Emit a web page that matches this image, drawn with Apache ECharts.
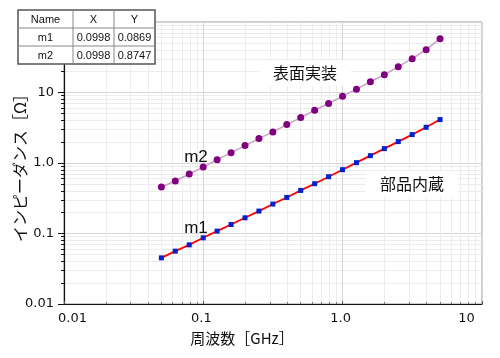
<!DOCTYPE html>
<html>
<head>
<meta charset="utf-8">
<script src="https://cdn.jsdelivr.net/npm/echarts@6/dist/echarts.min.js"></script>
<style>html,body{margin:0;padding:0;background:#fff}#c{width:500px;height:358px}</style>
</head>
<body>
<div id="c"></div>
<script>
// Frequency points [GHz]
const freqGHz = [0.05, 0.0629, 0.0792, 0.0998, 0.1256, 0.1581, 0.1991, 0.2506, 0.3155, 0.3972, 0.5, 0.6295, 0.7924, 0.9976, 1.256, 1.581, 1.991, 2.506, 3.155, 3.972, 5.0];
// m1: 部品内蔵 (embedded component) impedance [Ω]
const zEmbedded = [0.0451, 0.0562, 0.0690, 0.0869, 0.1081, 0.1341, 0.1670, 0.2080, 0.2616, 0.3247, 0.4083, 0.5084, 0.6393, 0.804, 1.011, 1.272, 1.599, 2.011, 2.529, 3.213, 4.133];
// m2: 表面実装 (surface mount) impedance [Ω]
const zSurface = [0.456, 0.555, 0.699, 0.8747, 1.116, 1.403, 1.765, 2.219, 2.762, 3.509, 4.413, 5.604, 6.98, 8.83, 11.15, 14.20, 17.86, 23.21, 30.16, 40.49, 58.0];
// Axis tick labels
const xTickLabels = ['0.01', '0.1', '1.0', '10'];
const yTickLabels = ['0.01', '0.1', '1.0', '10', ''];
// Marker table
const tableHeader = ['Name', 'X', 'Y'];
const markerRows = [['m1', '0.0998', '0.0869'], ['m2', '0.0998', '0.8747']];

const chart = echarts.init(document.getElementById('c'), null, {renderer: 'canvas'});
const FONT = 'DejaVu Sans';
const CJK = 'Noto Sans CJK JP';

function decadeIndex(v, minExp) { return Math.round(Math.log10(v)) - minExp; }

// table graphics
const colX = [18, 73, 114, 155];
const rowY = [10, 28, 46, 64];
const tableEls = [];
tableEls.push({type: 'rect', shape: {x: colX[0], y: rowY[0], width: colX[3] - colX[0], height: rowY[3] - rowY[0]}, style: {fill: '#fff', stroke: '#555', lineWidth: 1.5}, z: 100});
for (let i = 1; i < 3; i++) {
  tableEls.push({type: 'line', shape: {x1: colX[i], y1: rowY[0], x2: colX[i], y2: rowY[3]}, style: {stroke: '#888', lineWidth: 1}, z: 101});
  tableEls.push({type: 'line', shape: {x1: colX[0], y1: rowY[i], x2: colX[3], y2: rowY[i]}, style: {stroke: '#888', lineWidth: 1}, z: 101});
}
const allRows = [tableHeader].concat(markerRows);
allRows.forEach((row, r) => {
  row.forEach((txt, c) => {
    tableEls.push({type: 'text', x: (colX[c] + colX[c + 1]) / 2, y: (rowY[r] + rowY[r + 1]) / 2 + 0.5,
      style: {text: txt, fill: '#111', font: '11px "Liberation Sans"', align: 'center', verticalAlign: 'middle'}, z: 102});
  });
});

function annot(x, y, text, bg) {
  return {type: 'text', x: x, y: y, z: 50,
    style: {text: text, fill: '#111', font: '16px "' + CJK + '"', align: 'center', verticalAlign: 'middle',
      backgroundColor: bg ? '#fff' : null, padding: bg ? [5, 14, 5, 14] : 0}};
}

const option = {
  backgroundColor: '#fff',
  animation: false,
  grid: {left: 64, right: 18, top: 22, bottom: 54, containLabel: false, outerBoundsMode: 'none',
    show: true, borderColor: '#999', borderWidth: 1, backgroundColor: 'transparent'},
  xAxis: {
    type: 'log', logBase: 10, min: 0.01, max: 10,
    name: '周波数［GHz］', nameLocation: 'middle', nameGap: 27,
    nameTextStyle: {fontFamily: CJK, fontSize: 15, color: '#111', padding: [0, 62, 0, 0]},
    axisLine: {show: true, onZero: false, lineStyle: {color: '#111', width: 1.2}},
    axisTick: {show: true, inside: true, length: 3, lineStyle: {color: '#555'}},
    minorTick: {show: true, splitNumber: 9, length: 2, lineStyle: {color: '#777'}},
    splitLine: {show: true, lineStyle: {color: '#d6d6d6', width: 1}},
    minorSplitLine: {show: true, lineStyle: {color: '#ececec', width: 1}},
    axisLabel: {
      margin: 8, color: '#111', fontFamily: FONT, fontSize: 13,
      formatter: function (v) {
        const i = decadeIndex(v, -2);
        const t = xTickLabels[i];
        if (i === 0) return '{lo|' + t + '}';
        if (i === xTickLabels.length - 1) return '{hi|' + t + '}';
        return '{mid|' + t + '}';
      },
      rich: {
        lo: {fontFamily: FONT, fontSize: 13, color: '#111', padding: [0, 0, 0, 17]},
        mid: {fontFamily: FONT, fontSize: 13, color: '#111', padding: [0, 4, 0, 0]},
        hi: {fontFamily: FONT, fontSize: 13, color: '#111', padding: [0, 31, 0, 0]}
      }
    }
  },
  yAxis: {
    type: 'log', logBase: 10, min: 0.01, max: 100,
    axisLine: {show: true, onZero: false, lineStyle: {color: '#111', width: 1.2}},
    axisTick: {show: true, length: 6, lineStyle: {color: '#111'}},
    minorTick: {show: true, splitNumber: 9, length: 3, lineStyle: {color: '#111'}},
    splitLine: {show: true, lineStyle: {color: '#d6d6d6', width: 1}},
    minorSplitLine: {show: true, lineStyle: {color: '#ececec', width: 1}},
    axisLabel: {
      margin: 10, color: '#111', fontFamily: FONT, fontSize: 13,
      formatter: function (v) { return yTickLabels[decadeIndex(v, -2)] || ''; }
    }
  },
  series: [
    {
      name: '表面実装', type: 'line',
      data: freqGHz.map((f, i) => [f, zSurface[i]]),
      symbol: 'circle', symbolSize: 7,
      itemStyle: {color: '#800080'},
      lineStyle: {color: '#c8a0c4', width: 1.5},
      z: 3
    },
    {
      name: '部品内蔵', type: 'line',
      data: freqGHz.map((f, i) => [f, zEmbedded[i]]),
      symbol: 'rect', symbolSize: 5,
      itemStyle: {color: '#0022cc'},
      lineStyle: {color: '#ff0000', width: 1.8},
      z: 4
    }
  ],
  graphic: [
    {type: 'text', x: 20, y: 164, rotation: Math.PI / 2, z: 50,
      style: {text: 'インピーダンス［Ω］', fill: '#111', font: '16px "' + CJK + '"', align: 'center', verticalAlign: 'middle'}},
    annot(305, 73, '表面実装', true),
    annot(412, 184, '部品内蔵', true),
    {type: 'text', x: 196, y: 157, z: 50, style: {text: 'm2', fill: '#111', font: '17px "Liberation Sans"', align: 'center', verticalAlign: 'middle'}},
    {type: 'text', x: 196, y: 228, z: 50, style: {text: 'm1', fill: '#111', font: '17px "Liberation Sans"', align: 'center', verticalAlign: 'middle'}}
  ].concat(tableEls)
};
chart.setOption(option);
</script>
</body>
</html>
